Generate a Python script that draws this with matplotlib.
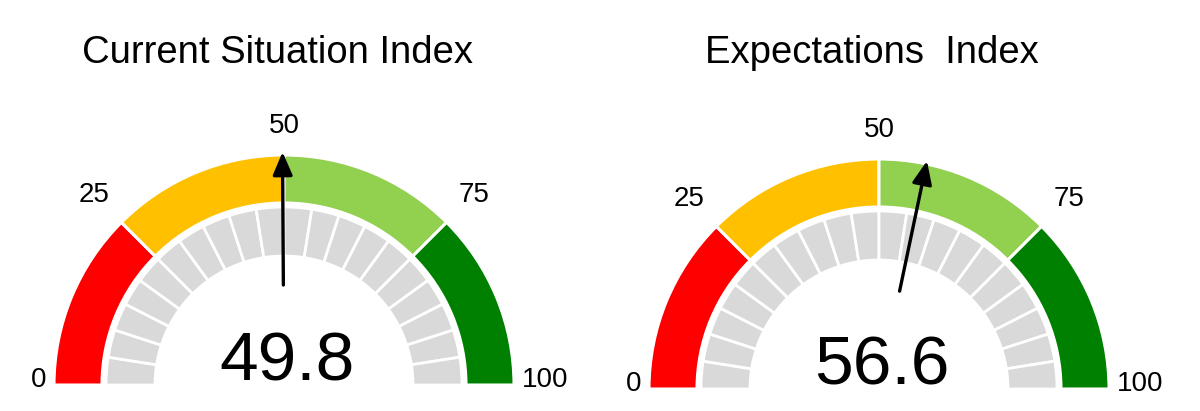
import numpy as np
import matplotlib.pyplot as plt
from matplotlib.patches import Wedge

titles = ['Current Situation Index', 'Expectations  Index']
values = [49.8, 56.6]
band_edges = [0, 25, 50, 75, 100]
band_colors = ['#FF0000', '#FFC000', '#92D050', '#008000']
tick_values = [0, 25, 50, 75, 100]
n_segments = 20

# gauge centres in pixel units (figure drawn 1:1 in pixels)
centers = [(284, 26), (879, 22)]


def to_angle(v):
    return 180 - v * 1.8


fig = plt.figure(figsize=(12, 4.11), dpi=100)
ax = fig.add_axes([0, 0, 1, 1])
ax.set_xlim(0, 1200)
ax.set_ylim(0, 411)
ax.axis('off')

font = 'Liberation Sans'

for (cx, cy), title, val in zip(centers, titles, values):
    # coloured bands
    for i, col in enumerate(band_colors):
        ax.add_patch(Wedge((cx, cy), 230, to_angle(band_edges[i + 1]), to_angle(band_edges[i]),
                           width=48, facecolor=col, edgecolor='white', lw=2.2))
    # grey segments
    seg = np.linspace(0, 100, n_segments + 1)
    for a, b in zip(seg[:-1], seg[1:]):
        ax.add_patch(Wedge((cx, cy), 178, to_angle(b), to_angle(a),
                           width=49, facecolor='#D9D9D9', edgecolor='white', lw=2.0))
    # tick labels
    for t in tick_values:
        th = np.radians(to_angle(t))
        c, s = np.cos(th), np.sin(th)
        if t in (0, 100):
            ha = 'right' if c < 0 else 'left'
            ax.text(cx + 238 * np.sign(c), cy - 2, str(t), ha=ha, va='baseline',
                    fontsize=20, family=font)
        else:
            r = 259 + 14 * abs(c)
            ax.text(cx + r * c, cy + r * s, str(t), ha='center', va='center',
                    fontsize=20, family=font)
    # needle
    th = np.radians(to_angle(val))
    ax.annotate('', xy=(cx + 233 * np.cos(th), cy + 233 * np.sin(th)),
                xytext=(cx + 100 * np.cos(th), cy + 100 * np.sin(th)),
                arrowprops=dict(arrowstyle='-|>,head_length=0.7,head_width=0.3',
                                lw=2.4, color='black', mutation_scale=20,
                                shrinkA=0, shrinkB=0))
    # value and title
    ax.text(cx + 3, cy + 5, f'{val:.1f}', ha='center', va='baseline', fontsize=50, family=font)
    ax.text(cx - 7, 348, title, ha='center', va='baseline', fontsize=27.5, family=font)

fig.savefig('out.png', dpi=100, facecolor='white')
